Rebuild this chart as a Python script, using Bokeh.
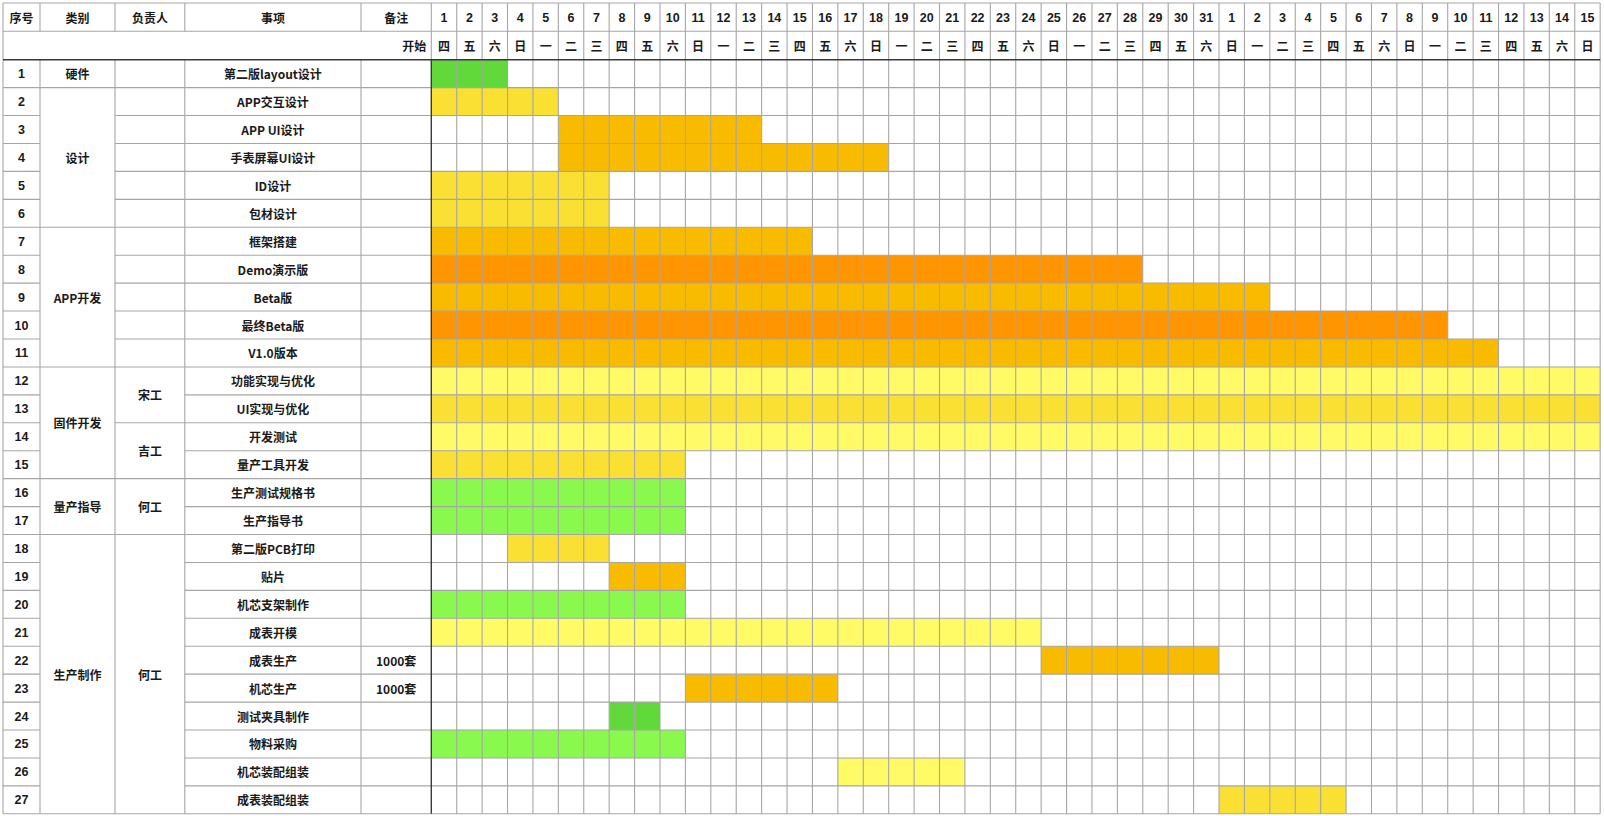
from bokeh.plotting import figure
from bokeh.models import Range1d, ColumnDataSource
from bokeh.core.properties import value
from bokeh.embed import file_html
from bokeh.resources import INLINE

# ---------------- data ----------------
header_labels = ["序号", "类别", "负责人", "事项", "备注"]
start_label = "开始"
day_labels = [1, 2, 3, 4, 5, 6, 7, 8, 9, 10, 11, 12, 13, 14, 15, 16, 17, 18, 19, 20,
              21, 22, 23, 24, 25, 26, 27, 28, 29, 30, 31,
              1, 2, 3, 4, 5, 6, 7, 8, 9, 10, 11, 12, 13, 14, 15]
weekday_labels = ["四", "五", "六", "日", "一", "二", "三",
                  "四", "五", "六", "日", "一", "二", "三",
                  "四", "五", "六", "日", "一", "二", "三",
                  "四", "五", "六", "日", "一", "二", "三",
                  "四", "五", "六", "日", "一", "二", "三",
                  "四", "五", "六", "日", "一", "二", "三",
                  "四", "五", "六", "日"]

task_ids = list(range(1, 28))
categories = ["硬件", "设计", "设计", "设计", "设计", "设计",
              "APP开发", "APP开发", "APP开发", "APP开发", "APP开发",
              "固件开发", "固件开发", "固件开发", "固件开发",
              "量产指导", "量产指导",
              "生产制作", "生产制作", "生产制作", "生产制作", "生产制作",
              "生产制作", "生产制作", "生产制作", "生产制作", "生产制作"]
owners = ["", "", "", "", "", "", "", "", "", "", "",
          "宋工", "宋工", "吉工", "吉工",
          "何工", "何工",
          "何工", "何工", "何工", "何工", "何工", "何工", "何工", "何工", "何工", "何工"]
task_names = ["第二版layout设计", "APP交互设计", "APP UI设计", "手表屏幕UI设计", "ID设计", "包材设计",
              "框架搭建", "Demo演示版", "Beta版", "最终Beta版", "V1.0版本",
              "功能实现与优化", "UI实现与优化", "开发测试", "量产工具开发",
              "生产测试规格书", "生产指导书",
              "第二版PCB打印", "贴片", "机芯支架制作", "成表开模", "成表生产", "机芯生产",
              "测试夹具制作", "物料采购", "机芯装配组装", "成表装配组装"]
notes = ["", "", "", "", "", "", "", "", "", "", "", "", "", "", "", "", "", "",
         "", "", "", "1000套", "1000套", "", "", "", ""]
# start = 1-based day column index, dur = number of day columns
starts = [1, 1, 6, 6, 1, 1, 1, 1, 1, 1, 1, 1, 1, 1, 1, 1, 1, 4, 8, 1, 1, 25, 11, 8, 1, 17, 32]
durations = [3, 5, 8, 13, 7, 7, 15, 28, 33, 40, 42, 46, 46, 46, 10, 10, 10, 4, 3, 10, 24, 7, 6, 2, 10, 5, 5]
# colour class of each bar
bar_class = ["G", "Y", "O", "O", "Y", "Y", "O", "D", "O", "D", "O",
             "L", "Y", "L", "Y", "N", "N", "Y", "O", "N", "L", "O", "O", "G", "N", "L", "Y"]

# ---------------- style / layout ----------------
palette = {"G": "#61D93A", "N": "#8AF94E", "Y": "#FBE034", "L": "#FFFB66",
           "O": "#F9BB00", "D": "#FF9500"}
GRID = "#A6A6A6"
DARK = "#3A3A3A"
TXT = "#1A1A1A"
FONT = value("Noto Sans CJK SC")
NUMFONT = value("Liberation Sans")

W, H = 1604, 816
col_edges = [2.5, 39.5, 114.5, 184.3, 360.5, 430.8]
gx0 = col_edges[-1]
cw = 25.41
ndays = len(day_labels)
gx1 = gx0 + ndays * cw
hy = [2.5, 30.8, 59.2]
rh = 27.93
nrows = len(task_names)


def row_top(i):
    return hy[2] + i * rh


def day_x(i):
    return gx0 + i * cw


p = figure(width=W, height=H, x_range=Range1d(0, W), y_range=Range1d(H, 0),
           output_backend="svg", toolbar_location=None, min_border=0,
           x_axis_location=None, y_axis_location=None)
p.grid.visible = False
p.outline_line_color = None
p.background_fill_color = "white"
p.border_fill_color = "white"

# bars
bl, br, bt, bb, bc = [], [], [], [], []
for i in range(nrows):
    bl.append(day_x(starts[i] - 1))
    br.append(day_x(starts[i] - 1 + durations[i]))
    bt.append(row_top(i))
    bb.append(row_top(i + 1))
    bc.append(palette[bar_class[i]])
p.quad(left=bl, right=br, top=bt, bottom=bb, fill_color=bc, line_color=None)

# grid lines (gray)
x0s, y0s, x1s, y1s = [], [], [], []


def seg(a, b, c, d):
    x0s.append(a); y0s.append(b); x1s.append(c); y1s.append(d)


# horizontals
seg(col_edges[0], hy[0], gx1, hy[0])
seg(col_edges[0], hy[1], gx1, hy[1])
seg(col_edges[0], row_top(nrows), gx1, row_top(nrows))
for i in range(nrows - 1):
    y = row_top(i + 1)
    seg(col_edges[0], y, col_edges[1], y)
    if categories[i] != categories[i + 1]:
        seg(col_edges[1], y, col_edges[2], y)
    same_owner = (owners[i] != "" and owners[i] == owners[i + 1]
                  and categories[i] == categories[i + 1])
    if not same_owner:
        seg(col_edges[2], y, col_edges[3], y)
    seg(col_edges[3], y, gx1, y)

# verticals
for x in col_edges:
    if x == gx0:
        seg(x, hy[0], x, hy[2])
    elif x == col_edges[0]:
        seg(x, hy[0], x, row_top(nrows))
    else:
        seg(x, hy[0], x, hy[1])
        seg(x, hy[2], x, row_top(nrows))
for d in range(1, ndays + 1):
    x = day_x(d)
    seg(x, hy[0], x, row_top(nrows))

p.segment(x0=x0s, y0=y0s, x1=x1s, y1=y1s, line_color=GRID, line_width=1.1)

# dark lines
p.segment(x0=[col_edges[0], gx0], y0=[hy[2], hy[2]], x1=[gx1, gx0], y1=[hy[2], row_top(nrows)],
          line_color=DARK, line_width=1.4)

# ---------------- texts ----------------
tx, ty, tt, ta = [], [], [], []
nx, ny, nt = [], [], []


def txt(x, y, s, align="center"):
    tx.append(x); ty.append(y); tt.append(str(s)); ta.append(align)


def num(x, y, s):
    nx.append(x); ny.append(y); nt.append(str(s))


hmid1 = (hy[0] + hy[1]) / 2
hmid2 = (hy[1] + hy[2]) / 2
for k, lab in enumerate(header_labels):
    txt((col_edges[k] + col_edges[k + 1]) / 2, hmid1, lab)
txt(gx0 - 5, hmid2, start_label, "right")
for d in range(ndays):
    cx = day_x(d) + cw / 2
    num(cx, hmid1, day_labels[d])
    txt(cx, hmid2, weekday_labels[d])

for i in range(nrows):
    cy = row_top(i) + rh / 2
    num((col_edges[0] + col_edges[1]) / 2, cy, task_ids[i])
    txt((col_edges[3] + col_edges[4]) / 2, cy, task_names[i])
    if notes[i]:
        txt((col_edges[4] + col_edges[5]) / 2, cy, notes[i])

# merged category cells
i = 0
while i < nrows:
    j = i
    while j + 1 < nrows and categories[j + 1] == categories[i]:
        j += 1
    txt((col_edges[1] + col_edges[2]) / 2, (row_top(i) + row_top(j + 1)) / 2, categories[i])
    i = j + 1

# merged owner cells
i = 0
while i < nrows:
    j = i
    if owners[i] != "":
        while (j + 1 < nrows and owners[j + 1] == owners[i]
               and categories[j + 1] == categories[i]):
            j += 1
        txt((col_edges[2] + col_edges[3]) / 2, (row_top(i) + row_top(j + 1)) / 2, owners[i])
    i = j + 1

src = ColumnDataSource(dict(x=tx, y=ty, text=tt, align=ta))
p.text(x="x", y="y", text="text", source=src, text_align="align", text_baseline="middle",
       text_font=FONT, text_font_style="bold", text_font_size="12px", text_color=TXT)

nsrc = ColumnDataSource(dict(x=nx, y=ny, text=nt))
p.text(x="x", y="y", text="text", source=nsrc, text_align="center", text_baseline="middle",
       text_font=NUMFONT, text_font_style="bold", text_font_size="12.5px", text_color=TXT)

open("out.html", "w").write(file_html(p, INLINE))
